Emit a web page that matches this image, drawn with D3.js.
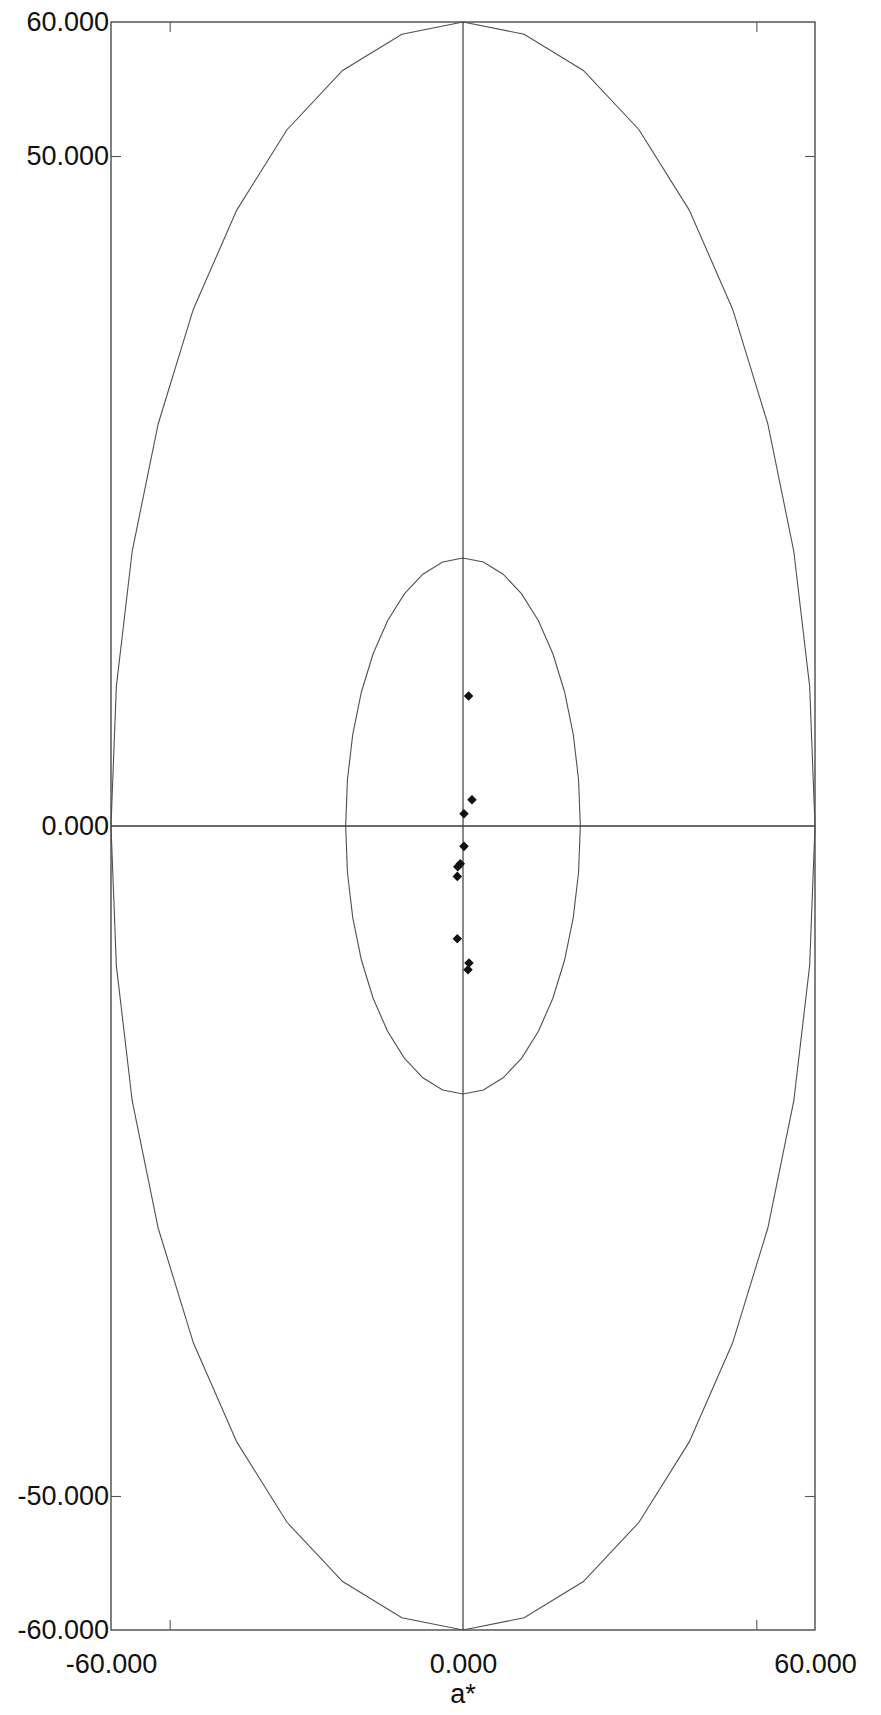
<!DOCTYPE html>
<html>
<head>
<meta charset="utf-8">
<script src="https://cdn.jsdelivr.net/npm/d3@7"></script>
<style>
  html, body { margin: 0; padding: 0; background: #fff; }
  svg { display: block; }
  text { font-family: "Liberation Sans", Arial, sans-serif; fill: #111; }
</style>
</head>
<body>
<svg id="chart" width="881" height="1715"></svg>
<script>
// ---- data ----
const aValues = [0.95, 1.53, 0.17, 0.17, -0.46, -0.89, -0.97, -0.97, 1.02, 0.85];
const bValues = [9.70, 1.96, 0.92, -1.52, -2.81, -3.04, -3.76, -8.41, -10.22, -10.72];
const ellipseRadii = [20, 60];
const ellipseStepDeg = 10;
const xTickLabels = [-60, 0, 60];
const yTickLabels = [60, 50, 0, -50, -60];
const innerTicks = [-50, 50];
const xTitle = "a*";

// ---- layout ----
const svg = d3.select("#chart");
const plotLeft = 111, plotRight = 815, plotTop = 22, plotBottom = 1630;
const x = d3.scaleLinear().domain([-60, 60]).range([plotLeft, plotRight]);
const y = d3.scaleLinear().domain([-60, 60]).range([plotBottom, plotTop]);
const fmt = d => d.toFixed(3);
const lineColor = "#3a3a3a";

// ellipses (polygons)
const line = d3.line().x(d => x(d[0])).y(d => y(d[1]));
ellipseRadii.forEach(r => {
  const pts = d3.range(0, 360 + ellipseStepDeg, ellipseStepDeg).map(deg => {
    const t = deg * Math.PI / 180;
    return [r * Math.sin(t), r * Math.cos(t)];
  });
  svg.append("path").attr("d", line(pts))
    .attr("fill", "none").attr("stroke", "#505050").attr("stroke-width", 1.1);
});

// cross lines
svg.append("line").attr("x1", x(0)).attr("x2", x(0)).attr("y1", y(60)).attr("y2", y(-60))
  .attr("stroke", lineColor).attr("stroke-width", 1.2);
svg.append("line").attr("x1", x(-60)).attr("x2", x(60)).attr("y1", y(0)).attr("y2", y(0))
  .attr("stroke", lineColor).attr("stroke-width", 1.4);

// frame
svg.append("rect").attr("x", plotLeft).attr("y", plotTop)
  .attr("width", plotRight - plotLeft).attr("height", plotBottom - plotTop)
  .attr("fill", "none").attr("stroke", "#4a4a4a").attr("stroke-width", 1.4);

// inward ticks
function inward(axis, tx, ty) {
  const g = svg.append("g").attr("transform", `translate(${tx},${ty})`)
    .call(axis.tickValues(innerTicks).tickSize(10).tickFormat(""));
  g.select(".domain").remove();
  g.selectAll(".tick line").attr("stroke", "#555").attr("stroke-width", 1.1);
}
inward(d3.axisRight(y), plotLeft, 0);
inward(d3.axisLeft(y), plotRight, 0);
inward(d3.axisBottom(x), 0, plotTop);
inward(d3.axisTop(x), 0, plotBottom);

// y tick labels
const gy = svg.append("g").attr("transform", `translate(${plotLeft},0)`)
  .call(d3.axisLeft(y).tickValues(yTickLabels).tickSize(0).tickPadding(2).tickFormat(fmt));
gy.select(".domain").remove();
gy.selectAll("text").attr("font-size", 27).attr("font-family", "Liberation Sans, Arial, sans-serif").attr("fill", "#111");

// x tick labels
const gx = svg.append("g").attr("transform", `translate(0,${plotBottom})`)
  .call(d3.axisBottom(x).tickValues(xTickLabels).tickSize(0).tickPadding(24).tickFormat(fmt));
gx.select(".domain").remove();
gx.selectAll("text").attr("font-size", 27).attr("font-family", "Liberation Sans, Arial, sans-serif").attr("fill", "#111");

// x title
svg.append("text").attr("x", x(0)).attr("y", 1703).attr("text-anchor", "middle")
  .attr("font-size", 27).text(xTitle);

// points (diamonds)
const diamond = d3.symbol().type(d3.symbolDiamond2).size(58);
svg.append("g").selectAll("path").data(aValues.map((a, i) => [a, bValues[i]])).join("path")
  .attr("transform", d => `translate(${x(d[0])},${y(d[1])})`)
  .attr("d", diamond).attr("fill", "#111");
</script>
</body>
</html>
